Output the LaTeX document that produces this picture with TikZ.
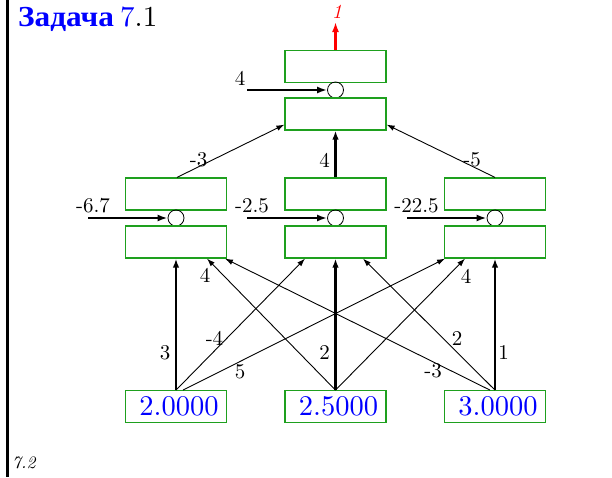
\documentclass[tikz,border=0pt]{standalone}
\usepackage{fontspec}
\setmainfont{lmroman10-regular.otf}[ItalicFont=lmroman10-italic.otf, BoldFont=lmroman10-bold.otf, BoldItalicFont=lmroman10-bolditalic.otf]
\newfontfamily\titlefont{Liberation Serif}[FakeStretch=1.08]
\usetikzlibrary{arrows.meta}
\definecolor{boxgreen}{RGB}{30,160,30}
\begin{document}
\begin{tikzpicture}[x=1pt,y=-1pt]
\tikzset{
  nbox/.style={draw=boxgreen, line width=1.2pt, minimum width=101pt, minimum height=32pt, inner sep=0pt},
  summ/.style={draw, circle, minimum size=16pt, inner sep=0pt, line width=0.8pt},
  wlab/.style={font=\fontsize{21}{25}\selectfont, inner sep=0pt},
  inval/.style={nbox, text=blue, font=\fontsize{28.5}{32}\selectfont},
  thinw/.style={line width=0.9pt, -{Latex[length=8pt,width=5.5pt]}},
  thickw/.style={line width=2.2pt, -{Latex[length=9pt,width=6.5pt]}},
  biasw/.style={line width=2.5pt, -{Latex[length=10pt,width=7pt]}},
}
\useasboundingbox (0,0) rectangle (612,477);
\fill[white] (0,0) rectangle (612,477);
\draw[line width=3pt] (7.5,0) -- (7.5,477);

% title
\node[anchor=base west, inner sep=0pt, text=blue, font=\titlefont\bfseries\fontsize{29}{34}\selectfont] (title) at (18,26) {Задача};
\node[anchor=base west, inner sep=0pt, font=\fontsize{29}{34}\selectfont] (titlenum) at (120,26) {\textcolor{blue}{7}.1};
\node[anchor=base west, inner sep=0pt, font=\itshape\fontsize{17.5}{20}\selectfont] (foot) at (12,468) {7.2};

% output neuron
\node[nbox] (oup) at (335.5,66.4) {};
\node[summ] (oc) at (335.5,90) {};
\node[nbox] (olo) at (335.5,114) {};

% hidden neurons
\node[nbox] (h1up) at (176,194) {};
\node[summ] (h1c) at (176,218) {};
\node[nbox] (h1lo) at (176,242) {};
\node[nbox] (h2up) at (335.5,194) {};
\node[summ] (h2c) at (335.5,218) {};
\node[nbox] (h2lo) at (335.5,242) {};
\node[nbox] (h3up) at (495,194) {};
\node[summ] (h3c) at (495,218) {};
\node[nbox] (h3lo) at (495,242) {};

% inputs
\node[inval] (i1) at (176,406.7) {\hspace{6pt}2.0000};
\node[inval] (i2) at (335.5,406.7) {\hspace{6pt}2.5000};
\node[inval] (i3) at (495,406.7) {\hspace{6pt}3.0000};

% input -> hidden
\draw[thickw] (i1.north) -- (h1lo.south);
\draw[thinw] (i1.north) -- ([xshift=-30.5pt]h2lo.south);
\draw[thinw] ([xshift=7pt]i1.north) -- ([xshift=-50pt]h3lo.south);
\draw[thinw] (i2.north) -- ([xshift=31pt]h1lo.south);
\draw[thickw] (i2.north) -- (h2lo.south);
\draw[thinw] (i2.north) -- ([xshift=-30pt]h3lo.south);
\draw[thinw] ([xshift=-5pt]i3.north) -- ([xshift=49pt]h1lo.south);
\draw[thinw] (i3.north) -- ([xshift=27.5pt]h2lo.south);
\draw[thickw] (i3.north) -- (h3lo.south);

% hidden -> output
\draw[thinw] ([xshift=1pt]h1up.north) -- ([yshift=6pt]olo.south west);
\draw[thickw] (h2up.north) -- (olo.south);
\draw[thinw] (h3up.north) -- ([yshift=6pt]olo.south east);

% biases
\coordinate (b0) at (247,90);
\coordinate (b1) at (88,218);
\coordinate (b2) at (247,218);
\coordinate (b3) at (407,218);
\draw[biasw] (b0) -- (oc.west);
\draw[biasw] (b1) -- (h1c.west);
\draw[biasw] (b2) -- (h2c.west);
\draw[biasw] (b3) -- (h3c.west);

% output arrow
\coordinate (oend) at (335.5,22);
\draw[biasw, red] (oup.north) -- (oend);
\node[inner sep=0pt, text=red, font=\itshape\fontsize{20}{24}\selectfont] (outlab) at (337,12) {1};

% labels
\node[wlab] (lb0) at (240,78) {4};
\node[wlab] (lb1) at (93,205.5) {-6.7};
\node[wlab] (lb2) at (252,205.5) {-2.5};
\node[wlab] (lb3) at (416.5,205.5) {-22.5};

\node[wlab] (lt1) at (198.5,160) {-3};
\node[wlab] (lt2) at (324.5,160) {4};
\node[wlab] (lt3) at (472,160) {-5};

\node[wlab] (l11) at (165,352.5) {3};
\node[wlab] (l12) at (214.5,338) {-4};
\node[wlab] (l13) at (240,371.5) {5};
\node[wlab] (l21) at (205,275) {4};
\node[wlab] (l22) at (324.5,352) {2};
\node[wlab] (l23) at (466,276) {4};
\node[wlab] (l31) at (433,371) {-3};
\node[wlab] (l32) at (457,338) {2};
\node[wlab] (l33) at (503.5,352) {1};
\end{tikzpicture}
\end{document}
